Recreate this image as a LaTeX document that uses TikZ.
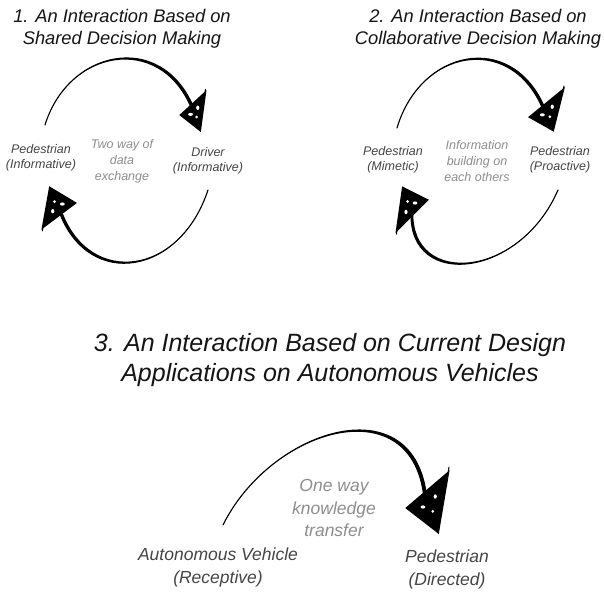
\documentclass[tikz,border=0pt]{standalone}
\usepackage{fontspec}
\setmainfont{Liberation Sans}
\usetikzlibrary{calc}
\definecolor{inkdark}{HTML}{151515}
\definecolor{labelgray}{HTML}{454545}
\definecolor{notegray}{HTML}{8E8E8E}
\tikzset{
  title/.style={font=\fontsize{18.3}{22}\selectfont\itshape, text=inkdark, align=center, inner sep=0pt},
  bigtitle/.style={font=\fontsize{25}{30}\selectfont\itshape, text=inkdark, align=center, inner sep=0pt},
  role/.style={font=\fontsize{12.5}{15.5}\selectfont\itshape, text=labelgray, align=center, inner sep=0pt},
  note/.style={font=\fontsize{12.5}{16}\selectfont\itshape, text=notegray, align=center, inner sep=0pt},
  bigrole/.style={font=\fontsize{17.5}{23}\selectfont\itshape, text=labelgray, align=center, inner sep=0pt},
  bignote/.style={font=\fontsize{17.5}{22.5}\selectfont\itshape, text=notegray, align=center, inner sep=0pt},
  headfill/.style={fill=black},
  headline/.style={line width=2.2pt, line join=miter, miter limit=6, draw=black},
}
% tapered hand-drawn arc: start, control 1, control 2, end, centre of curvature, end width
\newcommand\taperarc[6]{%
  \fill (#1) .. controls (#2) and (#3) .. (#4)
    -- ($(#4)!#6!(#5)$) .. controls ($(#3)!#6!(#5)$) and ($(#2)!0.4pt!(#5)$) .. (#1) -- cycle;
  \draw[line width=1.1pt, line cap=round] (#1) .. controls (#2) and (#3) .. (#4);}
% scribbled triangular arrow head: base corner, base corner, tip
\newcommand\sketchhead[3]{%
  \fill[headfill] (#1) -- (#2) -- (#3) -- cycle;
  \fill[white] ($0.2*(#1)+0.55*(#2)+0.25*(#3)$) ellipse (2.4pt and 1.6pt);
  \fill[white] ($0.5*(#1)+0.25*(#2)+0.25*(#3)$) ellipse (1.6pt and 2.2pt);
  \fill[white] ($0.25*(#1)+0.25*(#2)+0.5*(#3)$) circle (1.5pt);
  \draw[headline] (#1) -- (#2) -- (#3) -- cycle;
  \draw[line width=1pt, line cap=round] (#1) -- ($(#3)!1.1!(#1)$);}
\begin{document}
\begin{tikzpicture}[x=1pt, y=-1pt]
  \useasboundingbox[fill=white] (0,0) rectangle (603,605);

  % ---------- 1. shared decision making ----------
  \node[title] (t1) at (122,29) {1. An Interaction Based on\\Shared Decision Making};
  \node[role] (p1) at (41,158) {Pedestrian\\(Informative)};
  \node[note] (n1) at (122,161) {Two way of\\data\\exchange};
  \node[role] (d1) at (208,161) {Driver\\(Informative)};
  \coordinate (c1) at (125,160);
  \coordinate (a1s) at (45,125);
  \coordinate (a1e) at (193,106);
  \taperarc{a1s}{68,50}{160,30}{a1e}{c1}{3pt}
  \sketchhead{205,93}{181,115}{200,130}
  \coordinate (b1s) at (208,190);
  \coordinate (b1e) at (60,214);
  \taperarc{b1s}{180,275}{90,290}{b1e}{c1}{3pt}
  \sketchhead{43,227}{75,203}{50,188}

  % ---------- 2. collaborative decision making ----------
  \node[title] (t2) at (478,29) {2. An Interaction Based on\\Collaborative Decision Making};
  \node[role] (p2) at (393,160) {Pedestrian\\(Mimetic)};
  \node[note] (n2) at (477,161) {Information\\building on\\each others};
  \node[role] (d2) at (560,160) {Pedestrian\\(Proactive)};
  \coordinate (c2) at (477,160);
  \coordinate (a2s) at (397,128);
  \coordinate (a2e) at (544,106);
  \taperarc{a2s}{420,50}{510,30}{a2e}{c2}{3pt}
  \sketchhead{563,90}{530,117}{553,130}
  \coordinate (b2s) at (558,190);
  \coordinate (b2e) at (411,214);
  \taperarc{b2s}{520,278}{410,290}{b2e}{c2}{3pt}
  \sketchhead{397,230}{427,200}{403,188}

  % ---------- 3. current autonomous vehicle designs ----------
  \node[bigtitle] (t3) at (330,360) {3. An Interaction Based on Current Design\\Applications on Autonomous Vehicles};
  \node[bignote] (n3) at (334,508) {One way\\knowledge\\transfer};
  \node[bigrole] (av) at (218,567) {Autonomous Vehicle\\(Receptive)};
  \node[bigrole] (pd) at (447,569) {Pedestrian\\(Directed)};
  \coordinate (c3) at (330,540);
  \coordinate (a3s) at (223,525);
  \coordinate (a3e) at (426,492);
  \taperarc{a3s}{270,430}{410,385}{a3e}{c3}{3.5pt}
  \sketchhead{448,473}{407,508}{438,532}
\end{tikzpicture}
\end{document}
